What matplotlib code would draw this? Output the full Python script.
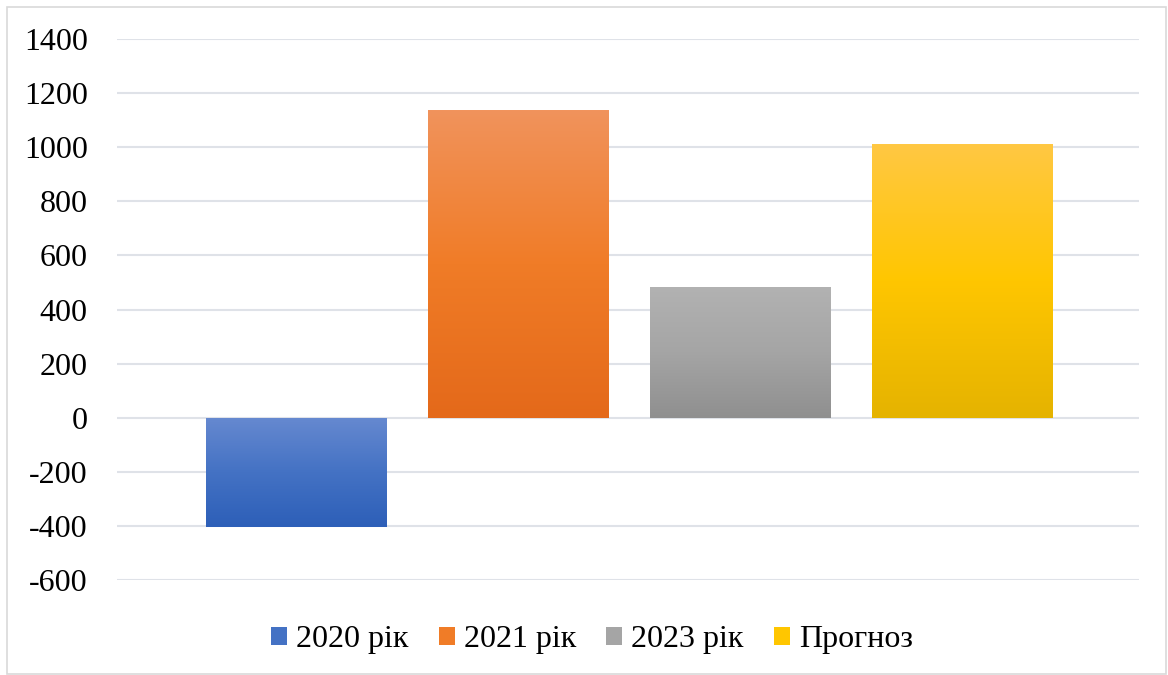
import numpy as np
import matplotlib.pyplot as plt
from matplotlib.patches import Rectangle
from matplotlib.colors import LinearSegmentedColormap

# values of the four bars
series = ["2020 рік", "2021 рік", "2023 рік", "Прогноз"]
values = [-403, 1138, 484, 1012]
y_ticks = [-600, -400, -200, 0, 200, 400, 600, 800, 1000, 1200, 1400]

# light top, base middle and dark bottom colour of each bar
top_colors = ["#6689d0", "#f1935c", "#b2b2b2", "#ffc843"]
mid_colors = ["#4472c4", "#f07c27", "#a5a5a5", "#ffc600"]
bottom_colors = ["#2d5fb8", "#e4691a", "#8f8f8f", "#e5b300"]

plt.rcParams['font.family'] = ['Liberation Serif', 'DejaVu Serif']

fig = plt.figure(figsize=(11.68, 6.75), dpi=100)
W, H = 1168, 675
ax = fig.add_axes([117 / W, 1 - 580 / H, (1139 - 117) / W, (580 - 39) / H])

x = np.arange(len(values))
bars = ax.bar(x, values, width=180 / 222, color=mid_colors, label=series, zorder=2)

# vertical gradient inside every bar
for b, c1, c2, c3 in zip(bars, top_colors, mid_colors, bottom_colors):
    cmap = LinearSegmentedColormap.from_list("g", [(0, c1), (0.5, c2), (1, c3)])
    x0, x1 = b.get_x(), b.get_x() + b.get_width()
    y0, y1 = sorted([b.get_y(), b.get_y() + b.get_height()])
    grad = np.linspace(0, 1, 256).reshape(-1, 1)
    im = ax.imshow(grad, cmap=cmap, extent=[x0, x1, y0, y1], aspect="auto",
                   origin="upper", zorder=3)
    im.set_clip_path(b)

ax.set_xlim(-0.806, 3.797)
ax.set_ylim(-600, 1400)
ax.set_yticks(y_ticks)
ax.set_yticklabels([str(v) for v in y_ticks], fontsize=23)
ax.set_xticks([])
ax.tick_params(axis="y", length=0, pad=21)
for s in ax.spines.values():
    s.set_visible(False)
ax.grid(axis="y", color="#dfe2e8", linewidth=1.5, zorder=0)
ax.set_axisbelow(True)

leg = fig.legend(handles=bars, labels=series, loc="center", bbox_to_anchor=(592 / W, 1 - 640 / H),
                 ncol=4, frameon=False, fontsize=23, handlelength=0.5, handleheight=0.5,
                 handletextpad=0.28, columnspacing=0.95)

# thin chart border
fig.patches.append(Rectangle((7 / W, 1 - 674 / H), (1166 - 7) / W, (674 - 7) / H,
                             transform=fig.transFigure, fill=False,
                             edgecolor="#d9d9d9", linewidth=1.2))

fig.savefig("out.png", dpi=100)
